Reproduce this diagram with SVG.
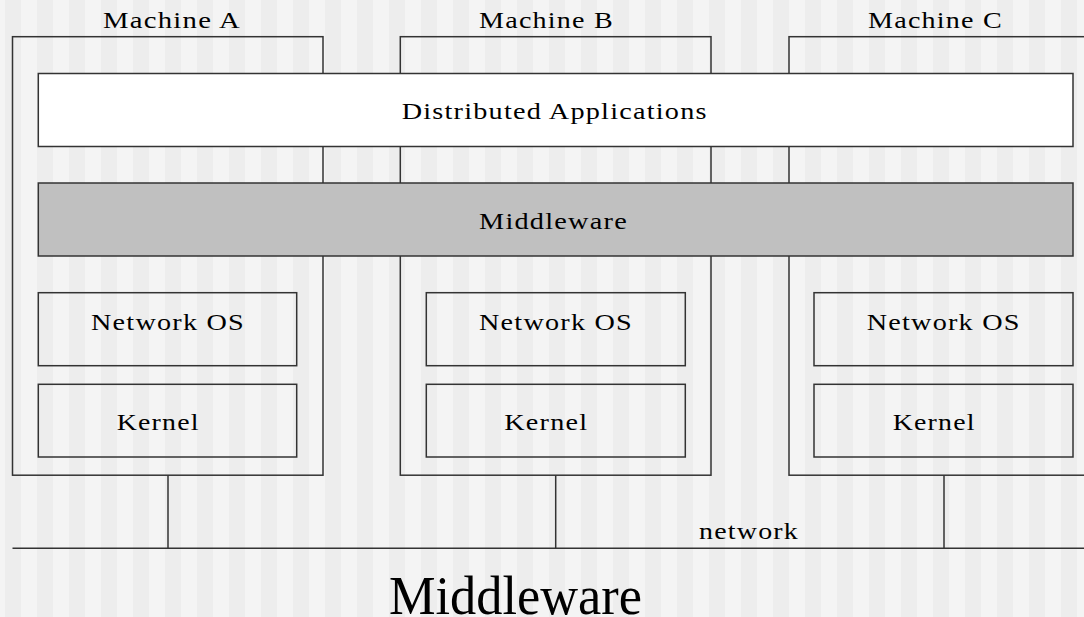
<svg xmlns="http://www.w3.org/2000/svg" width="1084" height="617" viewBox="0 0 1084 617">
  <defs>
    <pattern id="stripes" x="5" y="0" width="32" height="617" patternUnits="userSpaceOnUse">
      <rect x="0" y="0" width="16" height="617" fill="#ededed"/>
      <rect x="16" y="0" width="16" height="617" fill="#f4f4f4"/>
    </pattern>
  </defs>
  <style>
    .box { fill: none; stroke: #333333; stroke-width: 1.5; }
    .layer { stroke: #333333; stroke-width: 1.5; }
    .conn { stroke: #333333; stroke-width: 1.5; fill: none; }
    .lbl { font-family: "Liberation Serif", "Times New Roman", serif; font-size: 23px; fill: #000000; letter-spacing: 1px; }
    .title { font-family: "Liberation Serif", "Times New Roman", serif; font-size: 55px; fill: #000000; }
  </style>
  <rect x="0" y="0" width="1084" height="617" fill="url(#stripes)"/>

  <g id="machine-a">
    <rect class="box" x="12.5" y="36.7" width="310.5" height="438.5"/>
    <text class="lbl" x="103" y="28.3" textLength="138" lengthAdjust="spacingAndGlyphs">Machine A</text>
  </g>
  <g id="machine-b">
    <rect class="box" x="400.3" y="36.7" width="310.7" height="438.5"/>
    <text class="lbl" x="479" y="28.3" textLength="135" lengthAdjust="spacingAndGlyphs">Machine B</text>
  </g>
  <g id="machine-c">
    <rect class="box" x="789" y="36.7" width="310" height="438.5"/>
    <text class="lbl" x="868" y="28.3" textLength="135" lengthAdjust="spacingAndGlyphs">Machine C</text>
  </g>

  <g id="distributed-applications">
    <rect class="layer" x="38.3" y="73.5" width="1034.7" height="73" fill="#ffffff"/>
    <text class="lbl" x="401.7" y="119" textLength="306" lengthAdjust="spacingAndGlyphs">Distributed Applications</text>
  </g>
  <g id="middleware-layer">
    <rect class="layer" x="38.3" y="183" width="1034.7" height="73" fill="#c0c0c0"/>
    <text class="lbl" x="479" y="229.3" textLength="149" lengthAdjust="spacingAndGlyphs">Middleware</text>
  </g>

  <g id="netos-a">
    <rect class="box" x="38.3" y="292.7" width="258.4" height="73"/>
    <text class="lbl" x="91" y="330" textLength="154" lengthAdjust="spacingAndGlyphs">Network OS</text>
  </g>
  <g id="kernel-a">
    <rect class="box" x="38.3" y="384.3" width="258.4" height="72.7"/>
    <text class="lbl" x="116.7" y="430" textLength="83" lengthAdjust="spacingAndGlyphs">Kernel</text>
  </g>
  <g id="netos-b">
    <rect class="box" x="426.3" y="292.7" width="259" height="73"/>
    <text class="lbl" x="479" y="330" textLength="154" lengthAdjust="spacingAndGlyphs">Network OS</text>
  </g>
  <g id="kernel-b">
    <rect class="box" x="426.3" y="384.3" width="259" height="72.7"/>
    <text class="lbl" x="504.3" y="430" textLength="84" lengthAdjust="spacingAndGlyphs">Kernel</text>
  </g>
  <g id="netos-c">
    <rect class="box" x="814" y="292.7" width="259" height="73"/>
    <text class="lbl" x="866.7" y="330" textLength="154" lengthAdjust="spacingAndGlyphs">Network OS</text>
  </g>
  <g id="kernel-c">
    <rect class="box" x="814" y="384.3" width="259" height="72.7"/>
    <text class="lbl" x="892.7" y="430" textLength="83" lengthAdjust="spacingAndGlyphs">Kernel</text>
  </g>

  <g id="connectors">
    <line class="conn" x1="168" y1="475.2" x2="168" y2="548.3"/>
    <line class="conn" x1="555.7" y1="475.2" x2="555.7" y2="548.3"/>
    <line class="conn" x1="944" y1="475.2" x2="944" y2="548.3"/>
    <line class="conn" x1="12.5" y1="548.3" x2="1090" y2="548.3"/>
  </g>
  <g id="network-label">
    <text class="lbl" x="699" y="539.3" textLength="100" lengthAdjust="spacingAndGlyphs">network</text>
  </g>

  <g id="title">
    <text class="title" x="389" y="613.5" textLength="253" lengthAdjust="spacingAndGlyphs">Middleware</text>
  </g>
</svg>
